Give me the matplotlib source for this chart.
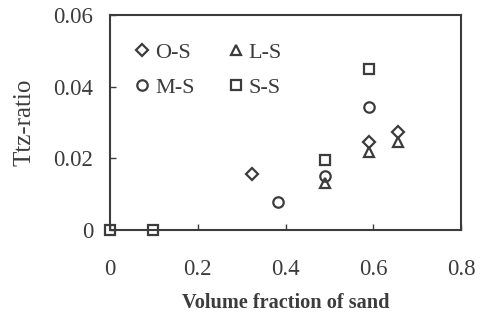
import matplotlib
matplotlib.use("Agg")
import matplotlib.pyplot as plt

# Ttz-ratio against volume fraction of sand for each mixture series
os_x = [0.323, 0.59, 0.657]
os_y = [0.0155, 0.0246, 0.0274]
ls_x = [0.49, 0.59, 0.657]
ls_y = [0.0132, 0.0218, 0.0246]
ms_x = [0.384, 0.49, 0.59]
ms_y = [0.0079, 0.0152, 0.0344]
ss_x = [0.0, 0.099, 0.49, 0.59]
ss_y = [0.0, 0.0, 0.0196, 0.0449]

x_ticks = [0, 0.2, 0.4, 0.6, 0.8]
x_labels = ["0", "0.2", "0.4", "0.6", "0.8"]
y_ticks = [0, 0.02, 0.04, 0.06]
y_labels = ["0", "0.02", "0.04", "0.06"]

INK = "#3c3c3c"
plt.rcParams.update({"font.family": "Liberation Serif", "font.size": 16.5})

fig = plt.figure(figsize=(4.86, 3.25), dpi=100)
ax = fig.add_axes([0.2263, 0.2923, 0.7223, 0.6615])

style = dict(linestyle="none", markerfacecolor="none", markeredgecolor=INK,
             markeredgewidth=1.6, clip_on=False, zorder=3)
ax.plot(os_x, os_y, marker="D", markersize=6, label="O-S", **style)
ax.plot(ms_x, ms_y, marker="o", markersize=7.5, label="M-S", **style)
ax.plot(ls_x, ls_y, marker="^", markersize=7.5, label="L-S", **style)
ax.plot(ss_x, ss_y, marker="s", markersize=7.5, label="S-S", **style)

ax.set_xlim(0, 0.8)
ax.set_ylim(0, 0.06)
ax.set_xticks(x_ticks)
ax.set_xticklabels(x_labels)
ax.set_yticks(y_ticks)
ax.set_yticklabels(y_labels)
ax.tick_params(direction="in", length=4, width=1, colors=INK, labelcolor=INK,
               top=False, right=False)
ax.tick_params(axis="x", pad=21)
ax.tick_params(axis="y", pad=12)
for sp in ax.spines.values():
    sp.set_color(INK)
    sp.set_linewidth(1.5)

ax.set_xlabel("Volume fraction of sand", color=INK, fontsize=14.6,
              fontweight="bold", labelpad=9.5)
ax.set_ylabel("Ttz-ratio", color=INK, fontsize=18, labelpad=13)

leg = ax.legend(ncol=2, loc="upper left", bbox_to_anchor=(0.014, 0.965),
                frameon=False, handlelength=0.6, handletextpad=0.3,
                columnspacing=1.55, labelspacing=0.64, fontsize=16,
                labelcolor=INK)

plt.savefig("out.png", dpi=100)
plt.close()
